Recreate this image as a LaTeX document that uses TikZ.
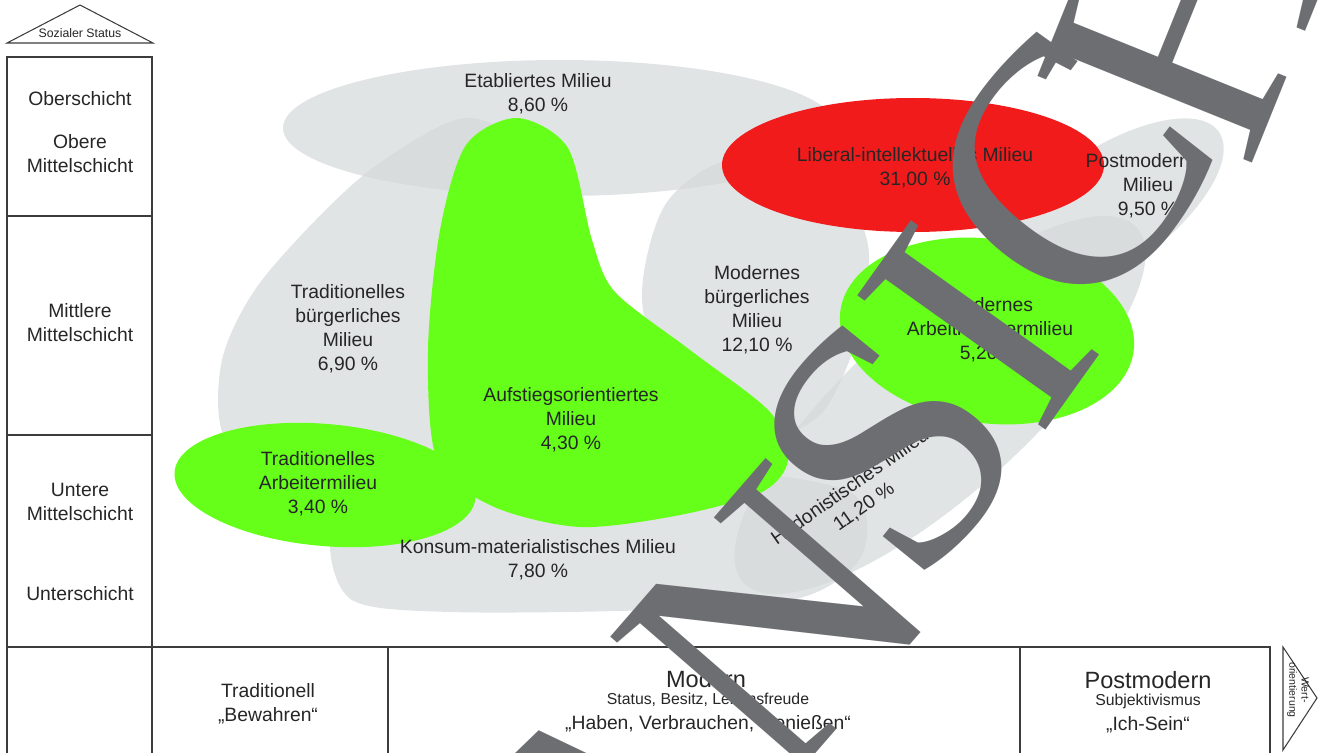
\documentclass[tikz,border=0pt]{standalone}
\usepackage{fontspec}
\setmainfont{Liberation Sans}
\newfontfamily\stampfont{Liberation Serif}
\definecolor{milieugrau}{RGB}{212,216,217}
\definecolor{milieugruen}{RGB}{102,255,26}
\definecolor{milieurot}{RGB}{242,27,27}
\definecolor{stempelgrau}{RGB}{109,110,113}
\definecolor{linie}{RGB}{60,60,60}
\begin{document}
\begin{tikzpicture}[x=0.02cm, y=-0.02cm,
  grau/.style={fill=milieugrau, fill opacity=0.7},
  lbl/.style={font=\fontsize{11}{13.7}\selectfont, align=center, inner sep=0pt, text=black!85},
  klein/.style={font=\fontsize{9}{11}\selectfont, align=center, inner sep=0pt, text=black!85},
  gross/.style={font=\fontsize{13.4}{16}\selectfont, inner sep=0pt, text=black!85},
  rahmen/.style={draw=linie, line width=0.6pt},
  stempel/.style={font=\stampfont\fontsize{201}{201}\selectfont, text=stempelgrau, inner sep=0pt, anchor=base}]

  \useasboundingbox (0,0) rectangle (1318,753);

  \coordinate (etab) at (560,128);
  \coordinate (hedo) at (940,405);
  \coordinate (post) at (1100,215);
  \coordinate (trad) at (325,485);
  \coordinate (mart) at (987,331);
  \coordinate (libi) at (913,165);

  \fill[grau] (etab) ellipse [x radius=277, y radius=68];
  \fill[grau] plot[smooth cycle] coordinates {(455,120) (505,135) (520,210) (500,350) (440,450) (300,470) (226,440) (222,360) (262,280) (360,178)};
  \fill[grau] plot[smooth cycle] coordinates {(730,160) (830,178) (868,245) (858,335) (820,415) (750,440) (675,395) (642,300) (665,205)};
  \fill[grau] plot[smooth cycle] coordinates {(330,540) (352,600) (450,612) (650,610) (800,598) (862,555) (850,492) (700,468) (480,465) (360,480)};
  \fill[grau, rotate around={42:(hedo)}] (hedo) ellipse [x radius=265, y radius=88];
  \fill[grau, rotate around={35:(post)}] (post) ellipse [x radius=145, y radius=60];

  \fill[milieugruen, rotate around={-5:(trad)}] (trad) ellipse [x radius=151, y radius=61];
  \fill[milieugruen] plot[smooth cycle] coordinates {(517,118) (568,148) (592,240) (615,292) (690,350) (770,412) (788,460) (762,492) (680,515) (580,527) (492,506) (437,460) (428,350) (440,230) (466,145)};
  \fill[milieugruen, rotate around={-8:(mart)}] (mart) ellipse [x radius=148, y radius=92];
  \fill[milieurot] (libi) ellipse [x radius=191, y radius=67];

  \draw[rahmen] (7,43) -- (80,5) -- (153,43) -- cycle;
  \draw[rahmen] (7,753) -- (7,57) -- (152,57) -- (152,753);
  \draw[rahmen] (7,216) -- (152,216);
  \draw[rahmen] (7,435) -- (152,435);
  \draw[rahmen] (7,647) -- (1270,647) -- (1270,753);
  \draw[rahmen] (388,647) -- (388,753);
  \draw[rahmen] (1020,647) -- (1020,753);
  \draw[rahmen] (1283,647) -- (1317,698) -- (1283,750) -- cycle;

  \node[lbl, font=\fontsize{7}{8}\selectfont] (status) at (80,33) {Sozialer Status};
  \node[lbl, font=\fontsize{6}{7}\selectfont, rotate=-90] (wert) at (1298,690) {Wert-\\orientierung};

  \node[lbl] (ober) at (80,99) {Oberschicht};
  \node[lbl] (obmi) at (80,154) {Obere\\Mittelschicht};
  \node[lbl] (mimi) at (80,323) {Mittlere\\Mittelschicht};
  \node[lbl] (unmi) at (80,502) {Untere\\Mittelschicht};
  \node[lbl] (unter) at (80,594) {Unterschicht};

  \node[lbl] (tradi) at (268,704) {Traditionell\\„Bewahren“};
  \node[gross] (modern) at (706,679) {Modern};
  \node[klein] (status2) at (708,700) {Status, Besitz, Lebensfreude};
  \node[lbl] (haben) at (708,724) {„Haben, Verbrauchen, Genießen“};
  \node[gross] (postmod) at (1148,680) {Postmodern};
  \node[klein] (subj) at (1148,701) {Subjektivismus};
  \node[lbl] (ich) at (1148,725) {„Ich-Sein“};

  \node[lbl] (etabl) at (538,94) {Etabliertes Milieu\\8,60 \%};
  \node[lbl] (tradbg) at (348,329) {Traditionelles\\bürgerliches\\Milieu\\6,90 \%};
  \node[lbl] (aufst) at (571,420) {Aufstiegsorientiertes\\Milieu\\4,30 \%};
  \node[lbl] (modbg) at (757,310) {Modernes\\bürgerliches\\Milieu\\12,10 \%};
  \node[lbl] (libint) at (915,168) {Liberal-intellektuelles Milieu\\31,00 \%};
  \node[lbl] (postm) at (1148,186) {Postmodernes\\Milieu\\9,50 \%};
  \node[lbl] (modan) at (990,330) {Modernes\\Arbeitnehmermilieu\\5,20 \%};
  \node[lbl] (tradam) at (318,484) {Traditionelles\\Arbeitermilieu\\3,40 \%};
  \node[lbl] (konsum) at (538,560) {Konsum-materialistisches Milieu\\7,80 \%};
  \node[lbl, rotate=35] (hedon) at (857,497) {Hedonistisches Milieu\\11,20 \%};

  \node[stempel, rotate=44] (st-a) at (691,908) {A};
  \node[stempel, rotate=49] (st-n) at (862,700) {N};
  \node[stempel, rotate=51] (st-s) at (978,518) {S};
  \node[stempel, rotate=54.5] (st-i) at (1073,393) {I};
  \node[stempel, rotate=53] (st-c) at (1160,242) {C};
  \node[stempel, rotate=68] (st-h) at (1296,54) {H};
  \node[stempel, rotate=72] (st-t) at (1369,-170) {T};
\end{tikzpicture}
\end{document}
